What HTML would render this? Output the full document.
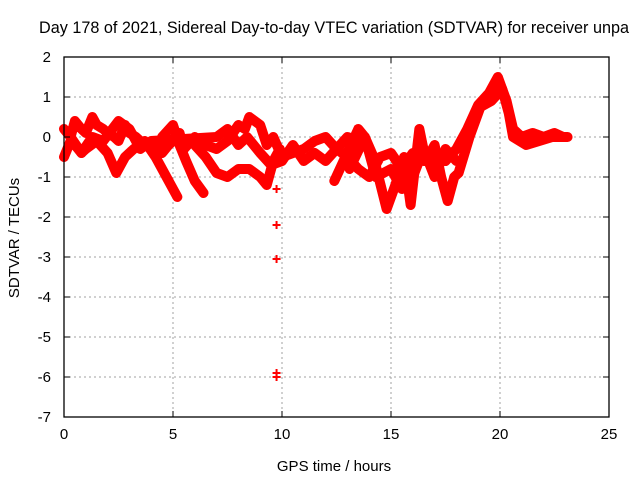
<!DOCTYPE html>
<html><head><meta charset="utf-8"><style>
html,body{margin:0;padding:0;background:#fff;}
svg{display:block;font-family:"Liberation Sans",sans-serif;}
</style></head><body>
<svg id="chart" width="640" height="480" viewBox="0 0 640 480" xmlns="http://www.w3.org/2000/svg">
<rect width="640" height="480" fill="#fff"/>
<text x="334" y="33" font-size="16.2" text-anchor="middle">Day 178 of 2021, Sidereal Day-to-day VTEC variation (SDTVAR) for receiver unpa</text>
<text transform="translate(19,238) rotate(-90)" font-size="15" text-anchor="middle">SDTVAR / TECUs</text>
<text x="334" y="471" font-size="15" text-anchor="middle">GPS time / hours</text>
<g id="grid"></g><g id="series"></g><g id="axes"></g>
</svg>
<script>
const xTicks=[0,5,10,15,20,25];
const yTicks=[2,1,0,-1,-2,-3,-4,-5,-6,-7];
const track1=[[0,0.2],[0.3,0.0],[0.5,0.4],[0.8,0.2],[1,0.1],[1.3,0.5],[1.5,0.3],[1.8,0.2],[2,0.1],[2.3,0.0],[2.5,-0.1],[2.8,0.3],[3,0.1],[3.3,0.0],[3.5,-0.1],[4,-0.2],[4.3,-0.1],[4.5,-0.4],[4.8,-0.2],[5,-0.1],[5.3,0.1],[5.5,-0.3],[6,0.0],[6.5,-0.2],[7,-0.3],[7.5,-0.1],[8,0.3],[8.3,0.2],[8.5,0.5],[9,0.3],[9.3,-0.2],[9.6,0.0],[10,-0.5],[10.5,-0.4],[11,-0.3],[11.5,-0.1],[12,0.0],[12.5,-0.3],[13,-0.5],[13.5,-0.8],[14,-1.0],[14.5,-0.5],[15,-0.4],[15.5,-0.8],[16,-0.4],[16.5,-0.6],[17,-0.5],[17.5,-0.6],[18,-0.3],[18.5,0.2],[19,0.8],[19.5,1.1],[19.9,1.5],[20.3,0.9],[20.6,0.2],[21,0.0],[21.5,0.1],[22,0.0],[22.5,0.1],[22.9,0.0]];
const track2=[[0,-0.5],[0.3,-0.1],[0.5,-0.2],[0.8,-0.4],[1,-0.3],[1.5,-0.1],[2,-0.4],[2.4,-0.9],[2.8,-0.5],[3.2,-0.3],[3.7,-0.1],[4.2,-0.5],[4.6,-0.9],[5,-1.3],[5.2,-1.5]];
const track3=[[4.5,0.0],[5,0.3],[5.3,-0.2],[5.6,-0.6],[6,-1.1],[6.4,-1.4]];
const track4=[[6,-0.2],[6.5,-0.5],[7,-0.9],[7.5,-1.0],[8,-0.8],[8.5,-0.8],[9,-1.0],[9.3,-1.2],[9.6,-0.6],[9.9,-0.3]];
const track5=[[0.3,0.0],[0.8,-0.4],[1.3,0.0],[1.8,-0.1],[2.5,0.4],[3,0.2],[3.5,-0.3],[4,-0.1],[7,0.0],[7.5,0.2],[8,-0.2],[8.4,0.0],[9,-0.4],[9.5,-0.7],[10,-0.6],[10.5,-0.2],[11,-0.6],[11.5,-0.4],[12,-0.6],[12.5,-0.3],[13,0.0],[13.5,-0.1]];
const track6=[[12.4,-1.1],[13.5,0.2],[13.8,0.0],[14.2,-0.5],[14.8,-1.8],[15.2,-1.2],[15.6,-0.5],[15.9,-1.7],[16.3,0.2],[16.6,-0.6],[17,-0.2],[17.3,-1.0],[17.6,-1.6],[17.9,-1.0],[18.1,-0.9],[18.6,0.0],[19.1,0.75],[19.6,0.9],[20.1,1.2],[20.4,0.6],[20.6,0.0],[21.2,-0.2],[21.8,-0.1],[22.4,0.0],[23.1,0.0]];
const track7=[[13.1,-0.8],[13.8,0.0],[14.3,-1.0],[15,-0.8],[15.5,-1.3],[16,-1.0],[16.5,-0.3],[17,-1.0],[17.5,-0.3],[18,-0.6]];
const outliersX=[9.75,9.75,9.75,9.75,9.75];
const outliersY=[-1.3,-2.2,-3.05,-5.9,-6.0];
const tracks=[track1,track2,track3,track4,track5,track6,track7];
const NS='http://www.w3.org/2000/svg';
const L=64,R=609,T=57,B=417,xmin=0,xmax=25,ymin=-7,ymax=2;
function sx(v){return L+(v-xmin)/(xmax-xmin)*(R-L);}
function sy(v){return B-(v-ymin)/(ymax-ymin)*(B-T);}
function mk(tag,attrs,parent){const e=document.createElementNS(NS,tag);for(const k in attrs)e.setAttribute(k,attrs[k]);parent.appendChild(e);return e;}
const grid=document.getElementById('grid'),axes=document.getElementById('axes'),ser=document.getElementById('series');
xTicks.forEach(t=>{
  if(t>xmin&&t<xmax){const g=mk('line',{x1:sx(t),x2:sx(t),y1:T,y2:B,stroke:'#a0a0a0','stroke-dasharray':'2,3'},grid);
  
  }
  const tx=mk('text',{x:sx(t),y:B+22,'font-size':15,'text-anchor':'middle'},axes);tx.textContent=t;
  
  
  mk('line',{x1:sx(t),x2:sx(t),y1:B,y2:B-6,stroke:'#000'},axes);
  mk('line',{x1:sx(t),x2:sx(t),y1:T,y2:T+6,stroke:'#000'},axes);
});
yTicks.forEach(t=>{
  if(t>ymin&&t<ymax){const g=mk('line',{x1:L,x2:R,y1:sy(t),y2:sy(t),stroke:'#a0a0a0','stroke-dasharray':'2,3'},grid);
  
  }
  const tx=mk('text',{x:L-13,y:sy(t)+5,'font-size':15,'text-anchor':'end'},axes);tx.textContent=t;
  
  
  mk('line',{x1:L,x2:L+6,y1:sy(t),y2:sy(t),stroke:'#000'},axes);
  mk('line',{x1:R,x2:R-6,y1:sy(t),y2:sy(t),stroke:'#000'},axes);
});
const fr=mk('rect',{x:L,y:T,width:R-L,height:B-T,fill:'none',stroke:'#000','stroke-width':1.3},axes);


function plus(x,y){const p=mk('path',{d:`M${sx(x)-4},${sy(y)}h8M${sx(x)},${sy(y)-4}v8`,stroke:'#f00','stroke-width':2},ser);
  
  }
tracks.forEach(tr=>{
  const pl=mk('polyline',{points:tr.map(p=>sx(p[0])+','+sy(p[1])).join(' '),fill:'none',stroke:'#f00','stroke-width':10,'stroke-linejoin':'round','stroke-linecap':'round'},ser);
  
  
  tr.forEach(p=>plus(p[0],p[1]));
});
outliersX.forEach((x,i)=>plus(x,outliersY[i]));
</script>
</body></html>
